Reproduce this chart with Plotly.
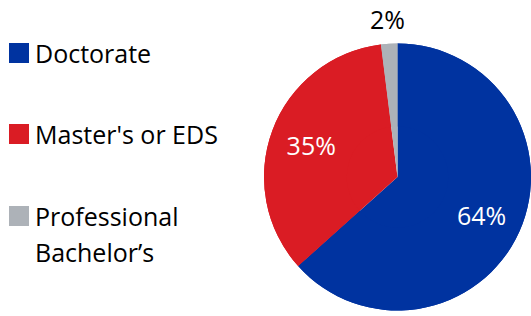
import math
import plotly.graph_objects as go

# Data
labels = ["Doctorate", "Master's or EDS", "Professional Bachelor’s"]
legend_lines = [["Doctorate"], ["Master's or EDS"], ["Professional", "Bachelor’s"]]
values = [64, 35, 2]
colors = ["#0033A0", "#DA1C24", "#ADB2B8"]
text_colors = ["white", "white", "black"]

W, H = 531, 316
FONT = "Open Sans"
FS = 25


def px(x):
    return x / W


def py(y):
    return 1 - y / H


# pie geometry (window pixels): domain limited by the right edge
x0 = 264
cy = 177
r = (W - x0) / 2
cx = x0 + r
domain = dict(x=[px(x0), 1.0], y=[0, py(2 * cy - H)])
inside_text = [f"{v}%" if i < 2 else "" for i, v in enumerate(values)]

common = dict(labels=labels, values=values, sort=False, direction="clockwise",
              rotation=0, domain=domain, automargin=False, showlegend=False,
              marker=dict(colors=colors, line=dict(width=0)))

fig = go.Figure()
# full pie (fills the centre)
fig.add_trace(go.Pie(**common, textinfo="none", hoverinfo="label+value"))
# identical ring on top, used to place the percentage labels further out
fig.add_trace(go.Pie(**common, hole=0.38, text=inside_text, texttemplate="%{text}",
                     textposition="inside", insidetextorientation="horizontal",
                     textfont=dict(family=FONT, size=FS, color=text_colors),
                     hoverinfo="label+value"))

annotations = []
# outside label of the small slice, centred on its mid-angle
total = sum(values)
start = sum(values[:2]) / total
frac_mid = start + values[2] / total / 2
theta = 2 * math.pi * frac_mid
rl = r + 25
annotations.append(dict(text=f"{values[2]}%", xref="paper", yref="paper",
                        x=px(cx + rl * math.sin(theta)), y=py(cy - rl * math.cos(theta)),
                        xanchor="center", yanchor="middle", showarrow=False,
                        font=dict(family=FONT, size=FS, color="black")))

# Manual legend (large square swatches)
item_y = [53, 134, 216]
line_gap = 36
shapes = []
for lines, col, yc in zip(legend_lines, colors, item_y):
    shapes.append(dict(type="rect", xref="paper", yref="paper",
                       x0=px(9), x1=px(29), y0=py(yc + 10), y1=py(yc - 10),
                       fillcolor=col, line=dict(width=0)))
    for i, ln in enumerate(lines):
        annotations.append(dict(text=ln, xref="paper", yref="paper",
                                x=px(33), y=py(yc + i * line_gap),
                                xanchor="left", yanchor="middle", showarrow=False,
                                font=dict(family=FONT, size=FS, color="black")))

fig.update_layout(
    width=W, height=H,
    margin=dict(l=0, r=0, t=0, b=0, pad=0, autoexpand=False),
    showlegend=False,
    paper_bgcolor="white", plot_bgcolor="white",
    shapes=shapes, annotations=annotations,
    font=dict(family=FONT),
)

fig.write_html(
    "out.html",
    config={"displayModeBar": False},
    post_script="document.body.style.margin='0px';document.body.style.overflow='hidden';",
)
